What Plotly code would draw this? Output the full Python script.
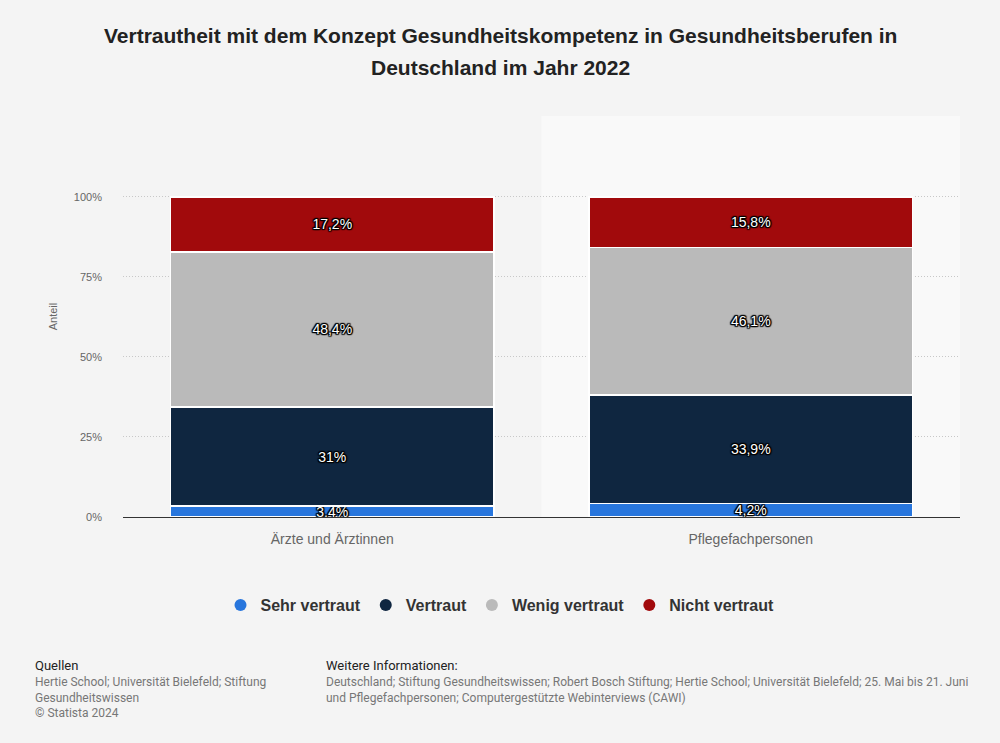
import plotly.graph_objects as go

categories = ["Ärzte und Ärztinnen", "Pflegefachpersonen"]
series_names = ["Sehr vertraut", "Vertraut", "Wenig vertraut", "Nicht vertraut"]
sehr_vertraut = [3.4, 4.2]
vertraut = [31.0, 33.9]
wenig_vertraut = [48.4, 46.1]
nicht_vertraut = [17.2, 15.8]
colors = ["#2876dd", "#0f2640", "#bababa", "#a10a0c"]
y_tickvals = [0, 25, 50, 75, 100, 125]
y_ticktext = ["0%", "25%", "50%", "75%", "100%", ""]

def fmt(v):
    s = ("%.1f" % v).rstrip("0").rstrip(".")
    return s.replace(".", ",") + "%"

W, H = 1000, 743
ML, MR, MT, MB = 123, 40, 116, 226
PW, PH = W - ML - MR, H - MT - MB

def px(x):
    return (x - ML) / PW

def py(y):
    return (H - MB - y) / PH

fig = go.Figure()
all_series = [sehr_vertraut, vertraut, wenig_vertraut, nicht_vertraut]
shadow = ("1px 1px 1px #000, -1px -1px 1px #000, 1px -1px 1px #000, -1px 1px 1px #000, "
          "0 1px 1px #000, 1px 0 1px #000, 0 -1px 1px #000, -1px 0 1px #000")
for name, vals, col in zip(series_names, all_series, colors):
    fig.add_trace(go.Bar(
        x=categories, y=vals, name=name, showlegend=False,
        marker=dict(color=col, line=dict(color="white", width=1.5)),
        text=[fmt(v) for v in vals], textposition="inside",
        insidetextanchor="middle", constraintext="none",
        textfont=dict(color="white", size=14, family="Liberation Sans, Arial", shadow=shadow),
        hoverinfo="skip",
    ))
for name, col in zip(series_names, colors):
    fig.add_trace(go.Scatter(
        x=[None], y=[None], mode="markers", name=name,
        marker=dict(symbol="circle", size=17, color=col),
    ))

fig.add_shape(type="rect", xref="x", yref="paper", x0=0.5, x1=1.5, y0=0, y1=1,
              fillcolor="#f9f9f9", line=dict(width=0), layer="below")

fig.update_layout(
    barmode="stack", bargap=0.228,
    width=W, height=H,
    paper_bgcolor="#f4f4f4", plot_bgcolor="#f4f4f4",
    margin=dict(l=ML, r=MR, t=MT, b=MB),
    font=dict(family="Liberation Sans, Arial", color="#666"),
    uniformtext=dict(minsize=14, mode="show"),
    legend=dict(orientation="h", x=px(500), xanchor="center", y=py(605), yanchor="middle",
                font=dict(size=16, color="#333", weight="bold", family="Liberation Sans, Arial"),
                itemsizing="constant", traceorder="normal", itemwidth=30),
    xaxis=dict(showline=True, linecolor="#333", linewidth=1, ticks="",
               tickfont=dict(size=14, color="#666"), showgrid=False, fixedrange=True,
               ticklabelstandoff=9),
    yaxis=dict(range=[0, 125.3], tickvals=y_tickvals, ticktext=y_ticktext,
               showgrid=True, gridcolor="#c8c8c8", griddash="1px,2px", gridwidth=1,
               zeroline=False, tickfont=dict(size=11, color="#666"),
               title=dict(text="Anteil", font=dict(size=11, color="#666"), standoff=14),
               ticklabelstandoff=20, fixedrange=True),
)

title_font = dict(size=21, color="#222", family="Liberation Sans, Arial", weight="bold")
fig.add_annotation(xref="paper", yref="paper", x=px(500), y=py(35), xanchor="center", yanchor="middle",
                   text="Vertrautheit mit dem Konzept Gesundheitskompetenz in Gesundheitsberufen in",
                   showarrow=False, font=title_font)
fig.add_annotation(xref="paper", yref="paper", x=px(500), y=py(68), xanchor="center", yanchor="middle",
                   text="Deutschland im Jahr 2022", showarrow=False, font=title_font)

foot_font = "Roboto, Liberation Sans Narrow, Arial"
fig.add_annotation(xref="paper", yref="paper", x=px(33), y=py(665), xanchor="left", yanchor="middle",
                   text="Quellen", showarrow=False, font=dict(size=13, color="#222", family=foot_font))
fig.add_annotation(xref="paper", yref="paper", x=px(33), y=py(673), xanchor="left", yanchor="top",
                   align="left",
                   text="Hertie School; Universität Bielefeld; Stiftung<br>Gesundheitswissen<br>© Statista 2024",
                   showarrow=False, font=dict(size=12, color="#777", family=foot_font))
fig.add_annotation(xref="paper", yref="paper", x=px(324), y=py(665), xanchor="left", yanchor="middle",
                   text="Weitere Informationen:", showarrow=False, font=dict(size=13, color="#222", family=foot_font))
fig.add_annotation(xref="paper", yref="paper", x=px(324), y=py(673), xanchor="left", yanchor="top",
                   align="left",
                   text="Deutschland; Stiftung Gesundheitswissen; Robert Bosch Stiftung; Hertie School; Universität Bielefeld; 25. Mai bis 21. Juni<br>und Pflegefachpersonen; Computergestützte Webinterviews (CAWI)",
                   showarrow=False, font=dict(size=12, color="#777", family=foot_font))

fig.write_html("out.html", config={"displayModeBar": False},
               post_script="document.body.style.margin='0';")
